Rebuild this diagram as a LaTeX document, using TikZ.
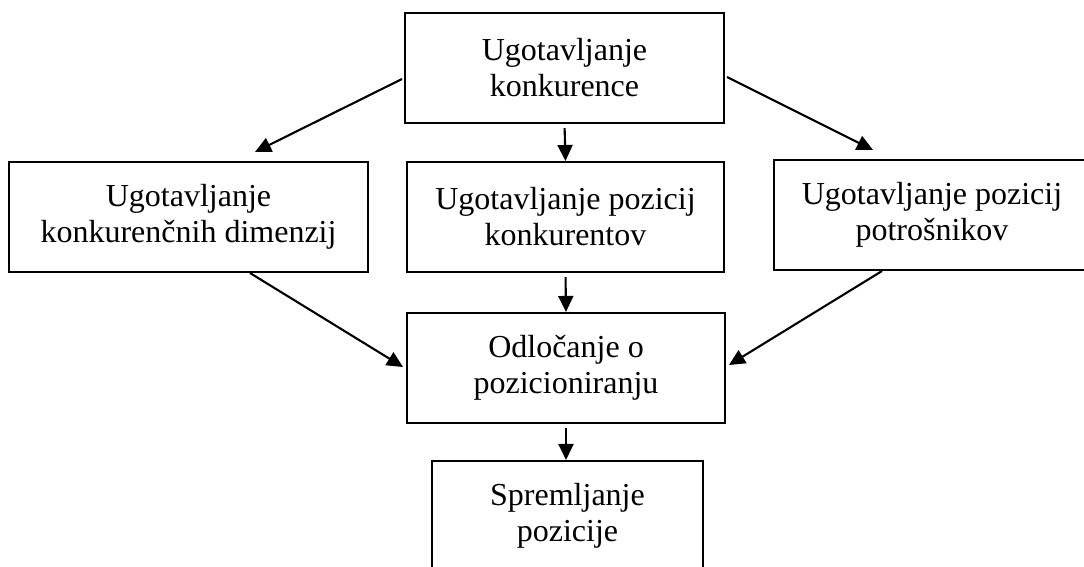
\documentclass[tikz,border=0pt]{standalone}
\usepackage{fontspec}
\setmainfont{Liberation Serif}
\usetikzlibrary{arrows.meta}
\begin{document}
\begin{tikzpicture}[x=1pt,y=-1pt,
  box/.style={draw=black, line width=2.1pt, rectangle, align=center, inner sep=0pt,
    font=\fontsize{32}{36}\selectfont, minimum height=110pt},
  arr/.style={line width=2.1pt, -{Triangle[length=16pt,width=15pt]}}]
\useasboundingbox (0,0) rectangle (1084,567);
\begin{scope}
\clip (0,0) rectangle (1084,567);
\node[box, minimum width=319pt] (top) at (564.5,68) {Ugotavljanje\\konkurence};
\node[box, minimum width=359pt] (left) at (188.5,217) {Ugotavljanje\\konkurenčnih dimenzij};
\node[box, minimum width=317pt] (mid) at (565.5,217) {Ugotavljanje pozicij\\konkurentov};
\node[box, minimum width=316pt] (right) at (932,215) {Ugotavljanje pozicij\\potrošnikov};
\node[box, minimum width=318pt] (odl) at (566,368) {Odločanje o\\pozicioniranju};
\node[box, minimum width=271pt] (spr) at (567.5,516) {Spremljanje\\pozicije};
\end{scope}
\coordinate (tl) at (402,79);
\coordinate (tr) at (727,77);
\coordinate (lt) at (255,152);
\coordinate (rt) at (873,150);
\coordinate (lb) at (250,273);
\coordinate (rb) at (882,271);
\coordinate (ol) at (403,367);
\coordinate (or) at (729,365);
\draw[arr] (tl) -- (lt);
\draw[arr] (tr) -- (rt);
\draw[arr, shorten <=4pt] (top.south) -- (mid.north);
\draw[arr, shorten <=4pt] (mid.south) -- (odl.north);
\draw[arr, shorten <=4pt] (odl.south) -- (odl.south |- spr.north);
\draw[arr] (lb) -- (ol);
\draw[arr] (rb) -- (or);
\end{tikzpicture}
\end{document}
